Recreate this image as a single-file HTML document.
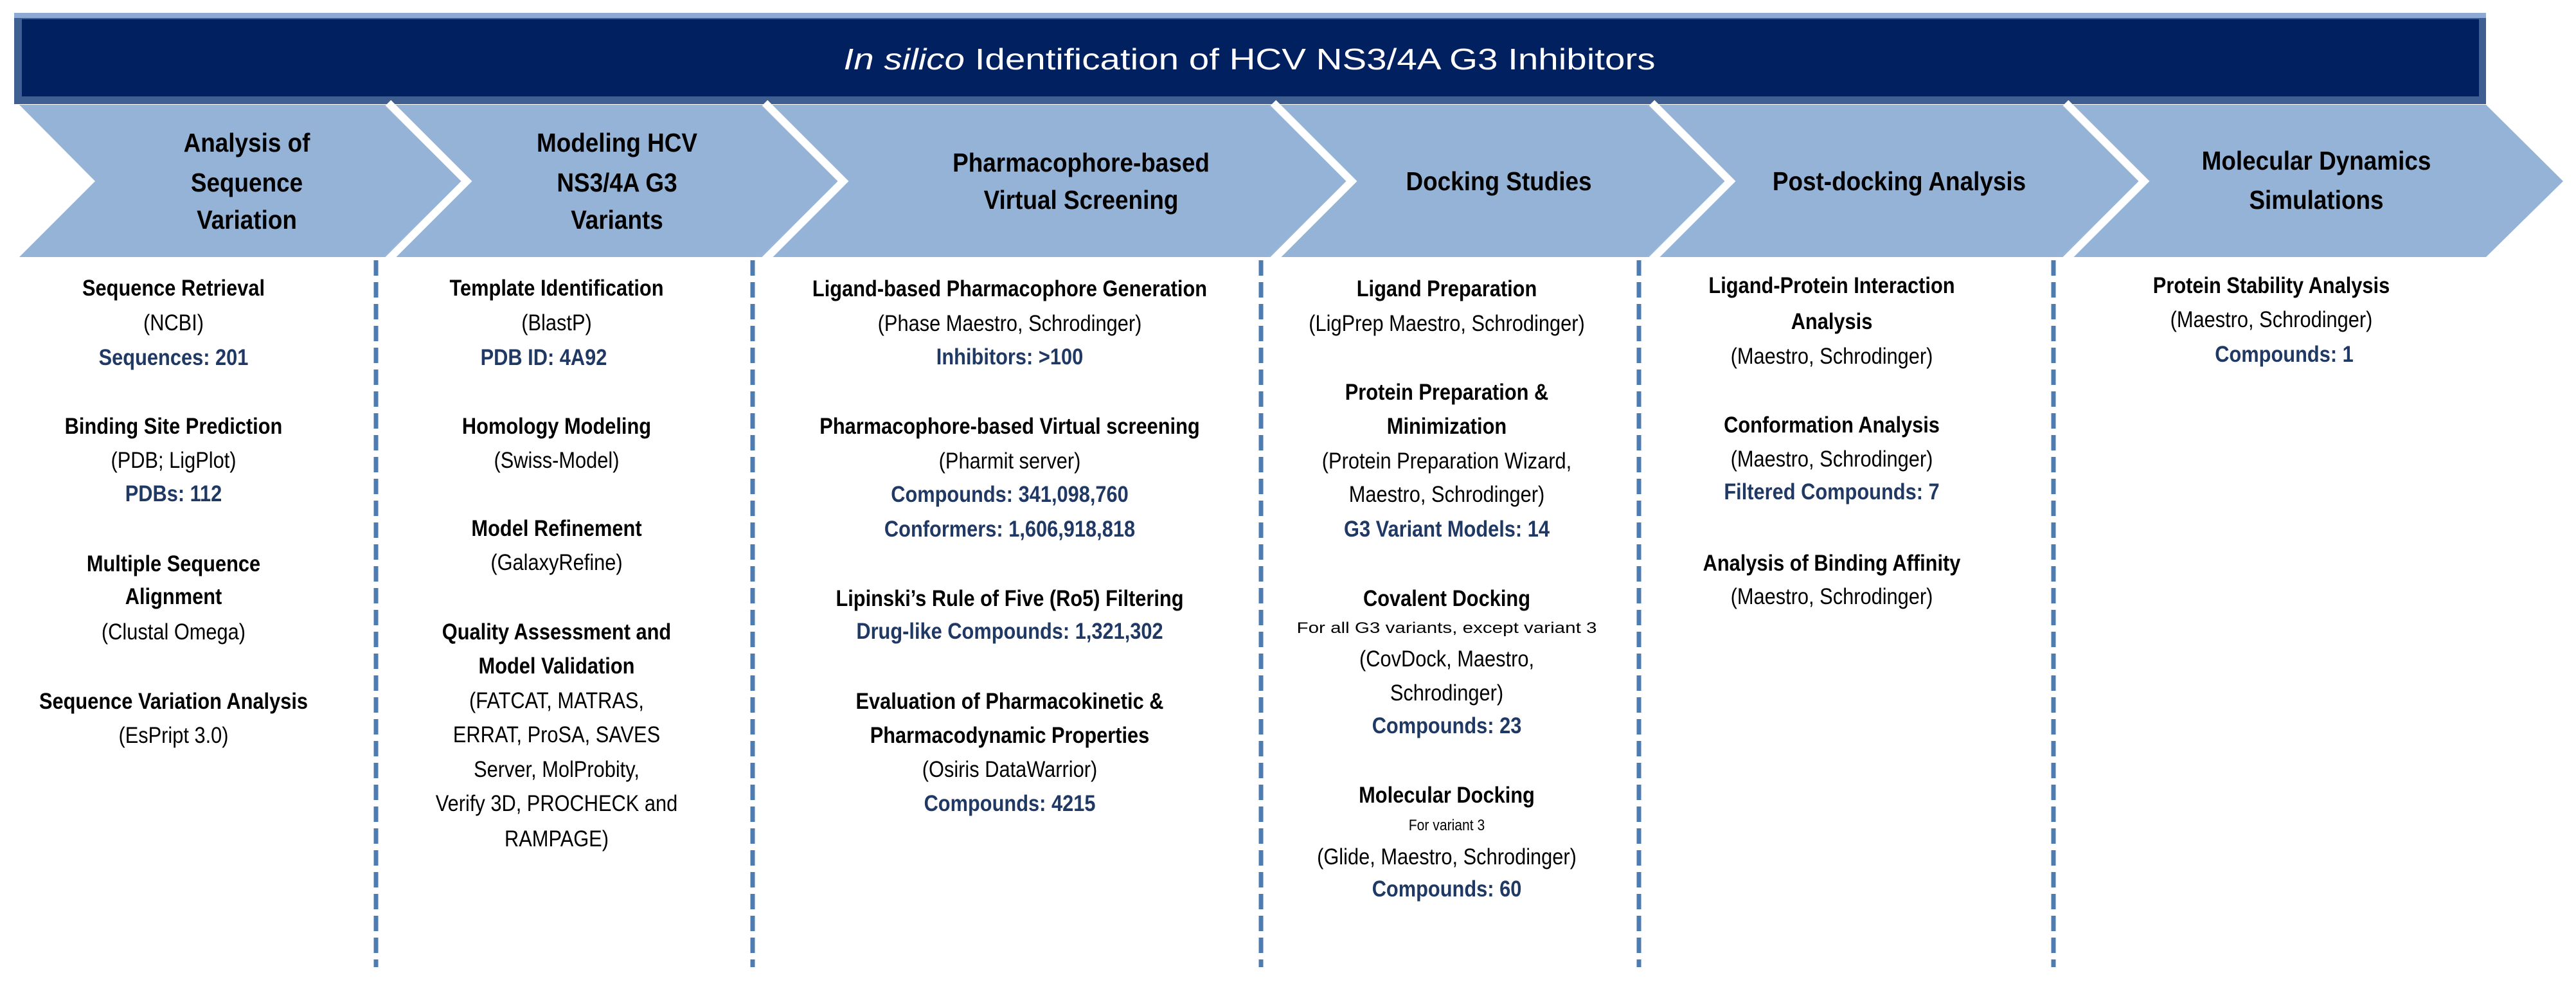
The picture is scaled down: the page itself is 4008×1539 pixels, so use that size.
<!DOCTYPE html>
<html><head><meta charset="utf-8"><style>
html,body{margin:0;padding:0;background:#fff;}
svg{display:block;}
.t{font-family:"Liberation Sans",sans-serif;font-weight:bold;font-size:41px;fill:#000;}
.b{font-family:"Liberation Sans",sans-serif;font-weight:bold;font-size:35px;fill:#000;}
.r{font-family:"Liberation Sans",sans-serif;font-size:35px;fill:#000;}
.n{font-family:"Liberation Sans",sans-serif;font-weight:bold;font-size:35px;fill:#1f3864;}
.s{font-family:"Liberation Sans",sans-serif;font-size:24px;fill:#000;}
</style></head><body>
<svg width="4008" height="1539" viewBox="0 0 4008 1539" xmlns="http://www.w3.org/2000/svg">
<rect width="4008" height="1539" fill="#fff"/>
<!-- banner -->
<rect x="22" y="20" width="3846" height="142" fill="#3f5f92"/>
<rect x="22" y="20" width="3846" height="8" fill="#8eaad4"/>
<rect x="34" y="30" width="3823" height="120" fill="#002060"/>
<text x="1944" y="108" font-family="Liberation Sans, sans-serif" font-size="46" fill="#fff" text-anchor="middle" textLength="1263" lengthAdjust="spacingAndGlyphs"><tspan font-style="italic">In silico</tspan> Identification of HCV NS3/4A G3 Inhibitors</text>
<!-- chevrons -->
<g fill="#95b3d7">
<polygon points="30,163 597,163 719,282 597,400 30,400 148,282"/>
<polygon points="597,163 1183,163 1305,282 1183,400 597,400 719,282"/>
<polygon points="1183,163 1974,163 2096,282 1974,400 1183,400 1305,282"/>
<polygon points="1974,163 2563,163 2685,282 2563,400 1974,400 2096,282"/>
<polygon points="2563,163 3207,163 3329,282 3207,400 2563,400 2685,282"/>
<polygon points="3207,163 3868,163 3988,282 3868,400 3207,400 3329,282"/>
</g>
<g fill="none" stroke="#fff" stroke-width="12">
<polyline points="604,160 726,282 604,404"/>
<polyline points="1190,160 1312,282 1190,404"/>
<polyline points="1981,160 2103,282 1981,404"/>
<polyline points="2570,160 2692,282 2570,404"/>
<polyline points="3214,160 3336,282 3214,404"/>
</g>
<!-- dashed separators -->
<g stroke="#4f7cb0" stroke-width="7" stroke-dasharray="24,10">
<line x1="585" y1="405" x2="585" y2="1505"/>
<line x1="1171" y1="405" x2="1171" y2="1505"/>
<line x1="1962" y1="405" x2="1962" y2="1505"/>
<line x1="2550" y1="405" x2="2550" y2="1505"/>
<line x1="3195" y1="405" x2="3195" y2="1505"/>
</g>
<!-- chevron titles -->
<g class="t" text-anchor="middle">
<text transform="translate(384,236) scale(0.9,1)">Analysis of</text>
<text transform="translate(384,298) scale(0.9,1)">Sequence</text>
<text transform="translate(384,356) scale(0.9,1)">Variation</text>
<text transform="translate(960,236) scale(0.9,1)">Modeling HCV</text>
<text transform="translate(960,298) scale(0.9,1)">NS3/4A G3</text>
<text transform="translate(960,356) scale(0.9,1)">Variants</text>
<text transform="translate(1682,267) scale(0.9,1)">Pharmacophore-based</text>
<text transform="translate(1682,325) scale(0.9,1)">Virtual Screening</text>
<text transform="translate(2332,296) scale(0.9,1)">Docking Studies</text>
<text transform="translate(2955,296) scale(0.9,1)">Post-docking Analysis</text>
<text transform="translate(3604,264) scale(0.9,1)">Molecular Dynamics</text>
<text transform="translate(3604,325) scale(0.9,1)">Simulations</text>
</g>
<!-- column 1 -->
<g text-anchor="middle">
<text class="b" transform="translate(270,460) scale(0.88,1)">Sequence Retrieval</text>
<text class="r" transform="translate(270,514) scale(0.88,1)">(NCBI)</text>
<text class="n" transform="translate(270,568) scale(0.88,1)">Sequences: 201</text>
<text class="b" transform="translate(270,675) scale(0.88,1)">Binding Site Prediction</text>
<text class="r" transform="translate(270,728) scale(0.88,1)">(PDB; LigPlot)</text>
<text class="n" transform="translate(270,780) scale(0.88,1)">PDBs: 112</text>
<text class="b" transform="translate(270,889) scale(0.88,1)">Multiple Sequence</text>
<text class="b" transform="translate(270,940) scale(0.88,1)">Alignment</text>
<text class="r" transform="translate(270,995) scale(0.88,1)">(Clustal Omega)</text>
<text class="b" transform="translate(270,1103) scale(0.88,1)">Sequence Variation Analysis</text>
<text class="r" transform="translate(270,1156) scale(0.88,1)">(EsPript 3.0)</text>
</g>
<!-- column 2 -->
<g text-anchor="middle">
<text class="b" transform="translate(866,460) scale(0.88,1)">Template Identification</text>
<text class="r" transform="translate(866,514) scale(0.88,1)">(BlastP)</text>
<text class="n" transform="translate(846,568) scale(0.88,1)">PDB ID: 4A92</text>
<text class="b" transform="translate(866,675) scale(0.88,1)">Homology Modeling</text>
<text class="r" transform="translate(866,728) scale(0.88,1)">(Swiss-Model)</text>
<text class="b" transform="translate(866,834) scale(0.88,1)">Model Refinement</text>
<text class="r" transform="translate(866,887) scale(0.88,1)">(GalaxyRefine)</text>
<text class="b" transform="translate(866,995) scale(0.88,1)">Quality Assessment and</text>
<text class="b" transform="translate(866,1048) scale(0.88,1)">Model Validation</text>
<text class="r" transform="translate(866,1102) scale(0.88,1)">(FATCAT, MATRAS,</text>
<text class="r" transform="translate(866,1155) scale(0.88,1)">ERRAT, ProSA, SAVES</text>
<text class="r" transform="translate(866,1209) scale(0.88,1)">Server, MolProbity,</text>
<text class="r" transform="translate(866,1262) scale(0.88,1)">Verify 3D, PROCHECK and</text>
<text class="r" transform="translate(866,1317) scale(0.88,1)">RAMPAGE)</text>
</g>
<!-- column 3 -->
<g text-anchor="middle">
<text class="b" transform="translate(1571,461) scale(0.88,1)">Ligand-based Pharmacophore Generation</text>
<text class="r" transform="translate(1571,515) scale(0.88,1)">(Phase Maestro, Schrodinger)</text>
<text class="n" transform="translate(1571,567) scale(0.88,1)">Inhibitors: &gt;100</text>
<text class="b" transform="translate(1571,675) scale(0.88,1)">Pharmacophore-based Virtual screening</text>
<text class="r" transform="translate(1571,729) scale(0.88,1)">(Pharmit server)</text>
<text class="n" transform="translate(1571,781) scale(0.88,1)">Compounds: 341,098,760</text>
<text class="n" transform="translate(1571,835) scale(0.88,1)">Conformers: 1,606,918,818</text>
<text class="b" transform="translate(1571,943) scale(0.88,1)">Lipinski’s Rule of Five (Ro5) Filtering</text>
<text class="n" transform="translate(1571,994) scale(0.88,1)">Drug-like Compounds: 1,321,302</text>
<text class="b" transform="translate(1571,1103) scale(0.88,1)">Evaluation of Pharmacokinetic &amp;</text>
<text class="b" transform="translate(1571,1156) scale(0.88,1)">Pharmacodynamic Properties</text>
<text class="r" transform="translate(1571,1209) scale(0.88,1)">(Osiris DataWarrior)</text>
<text class="n" transform="translate(1571,1262) scale(0.88,1)">Compounds: 4215</text>
</g>
<!-- column 4 -->
<g text-anchor="middle">
<text class="b" transform="translate(2251,461) scale(0.88,1)">Ligand Preparation</text>
<text class="r" transform="translate(2251,515) scale(0.88,1)">(LigPrep Maestro, Schrodinger)</text>
<text class="b" transform="translate(2251,622) scale(0.88,1)">Protein Preparation &amp;</text>
<text class="b" transform="translate(2251,675) scale(0.88,1)">Minimization</text>
<text class="r" transform="translate(2251,729) scale(0.88,1)">(Protein Preparation Wizard,</text>
<text class="r" transform="translate(2251,781) scale(0.88,1)">Maestro, Schrodinger)</text>
<text class="n" transform="translate(2251,835) scale(0.88,1)">G3 Variant Models: 14</text>
<text class="b" transform="translate(2251,943) scale(0.88,1)">Covalent Docking</text>
<text class="s" x="2251" y="985" textLength="467" lengthAdjust="spacingAndGlyphs">For all G3 variants, except variant 3</text>
<text class="r" transform="translate(2251,1037) scale(0.88,1)">(CovDock, Maestro,</text>
<text class="r" transform="translate(2251,1090) scale(0.88,1)">Schrodinger)</text>
<text class="n" transform="translate(2251,1141) scale(0.88,1)">Compounds: 23</text>
<text class="b" transform="translate(2251,1249) scale(0.88,1)">Molecular Docking</text>
<text class="s" transform="translate(2251,1292) scale(0.88,1)">For variant 3</text>
<text class="r" transform="translate(2251,1345) scale(0.88,1)">(Glide, Maestro, Schrodinger)</text>
<text class="n" transform="translate(2251,1395) scale(0.88,1)">Compounds: 60</text>
</g>
<!-- column 5 -->
<g text-anchor="middle">
<text class="b" transform="translate(2850,456) scale(0.88,1)">Ligand-Protein Interaction</text>
<text class="b" transform="translate(2850,512) scale(0.88,1)">Analysis</text>
<text class="r" transform="translate(2850,566) scale(0.88,1)">(Maestro, Schrodinger)</text>
<text class="b" transform="translate(2850,673) scale(0.88,1)">Conformation Analysis</text>
<text class="r" transform="translate(2850,726) scale(0.88,1)">(Maestro, Schrodinger)</text>
<text class="n" transform="translate(2850,777) scale(0.88,1)">Filtered Compounds: 7</text>
<text class="b" transform="translate(2850,888) scale(0.88,1)">Analysis of Binding Affinity</text>
<text class="r" transform="translate(2850,940) scale(0.88,1)">(Maestro, Schrodinger)</text>
</g>
<!-- column 6 -->
<g text-anchor="middle">
<text class="b" transform="translate(3534,456) scale(0.88,1)">Protein Stability Analysis</text>
<text class="r" transform="translate(3534,509) scale(0.88,1)">(Maestro, Schrodinger)</text>
<text class="n" transform="translate(3554,563) scale(0.88,1)">Compounds: 1</text>
</g>
</svg>
</body></html>
